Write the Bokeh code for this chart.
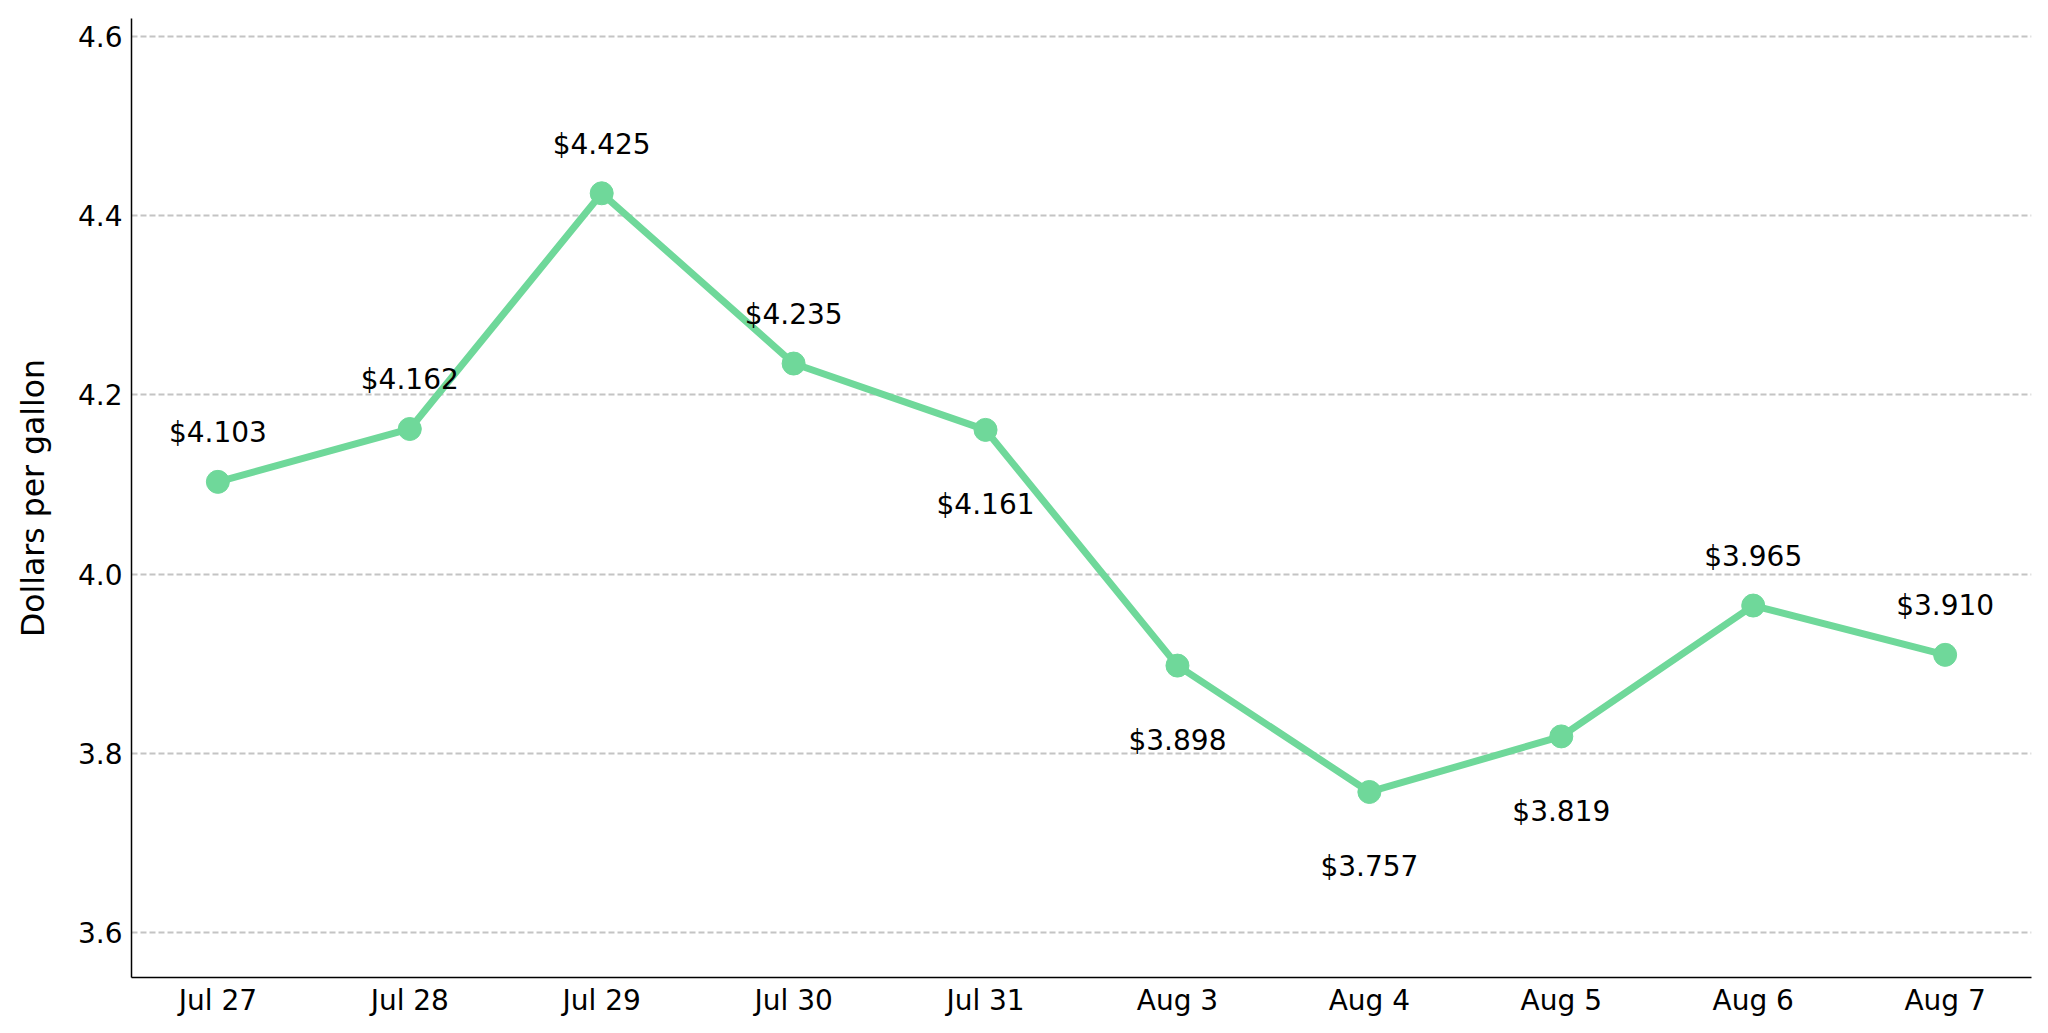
from bokeh.plotting import figure
from bokeh.models import ColumnDataSource, Range1d, FixedTicker, PrintfTickFormatter
from bokeh.embed import file_html
from bokeh.resources import INLINE
from bokeh.core.properties import value

# --- data ---
dates = ["Jul 27", "Jul 28", "Jul 29", "Jul 30", "Jul 31",
         "Aug 3", "Aug 4", "Aug 5", "Aug 6", "Aug 7"]
prices = [4.103, 4.162, 4.425, 4.235, 4.161, 3.898, 3.757, 3.819, 3.965, 3.910]
label_side = ["above", "above", "above", "above", "below",
              "below", "below", "below", "above", "above"]
y_ticks = [3.6, 3.8, 4.0, 4.2, 4.4, 4.6]

FONT = "DejaVu Sans"
GREEN = "#6fd89a"

xs = list(range(len(dates)))
src = ColumnDataSource(dict(
    x=xs,
    y=prices,
    label=[f"${v:.3f}" for v in prices],
    yoff=[-49 if s == "above" else 75 for s in label_side],
))

p = figure(width=2040, height=1025, output_backend="svg", toolbar_location=None,
           x_range=Range1d(-0.45, len(dates) - 1 + 0.45),
           y_range=Range1d(3.55, 4.62),
           min_border_left=131, min_border_right=9, min_border_top=18, min_border_bottom=48)
p.outline_line_color = None
p.background_fill_color = "white"
p.border_fill_color = "white"

p.line("x", "y", source=src, line_width=7, line_color=GREEN)
p.scatter("x", "y", source=src, size=23, fill_color=GREEN, line_color=GREEN)
p.text("x", "y", text="label", source=src, y_offset="yoff",
       text_align="center", text_baseline="alphabetic",
       text_font=value(FONT), text_font_size="28px", text_color="black")

# axes
p.xaxis.ticker = FixedTicker(ticks=xs)
p.xaxis.major_label_overrides = {i: d for i, d in enumerate(dates)}
p.yaxis.ticker = FixedTicker(ticks=y_ticks)
p.yaxis.formatter = PrintfTickFormatter(format="%.1f")
for ax in (p.xaxis[0], p.yaxis[0]):
    ax.major_tick_line_color = None
    ax.minor_tick_line_color = None
    ax.axis_line_color = "black"
    ax.axis_line_width = 1.5
    ax.major_label_text_font = FONT
    ax.major_label_text_font_size = "28px"
    ax.major_label_text_color = "black"
p.xaxis.major_label_standoff = 0
p.yaxis.major_label_standoff = 3
p.yaxis.axis_label = "Dollars per gallon"
p.yaxis.axis_label_text_font = FONT
p.yaxis.axis_label_text_font_size = "31.5px"
p.yaxis.axis_label_text_font_style = "normal"
p.yaxis.axis_label_text_color = "black"
p.yaxis.axis_label_standoff = 24

# grid
p.xgrid.grid_line_color = None
p.ygrid.ticker = FixedTicker(ticks=y_ticks)
p.ygrid.grid_line_color = "#c4c4c4"
p.ygrid.grid_line_width = 2
p.ygrid.grid_line_dash = "6 3"

open("out.html", "w").write(file_html(p, INLINE))
